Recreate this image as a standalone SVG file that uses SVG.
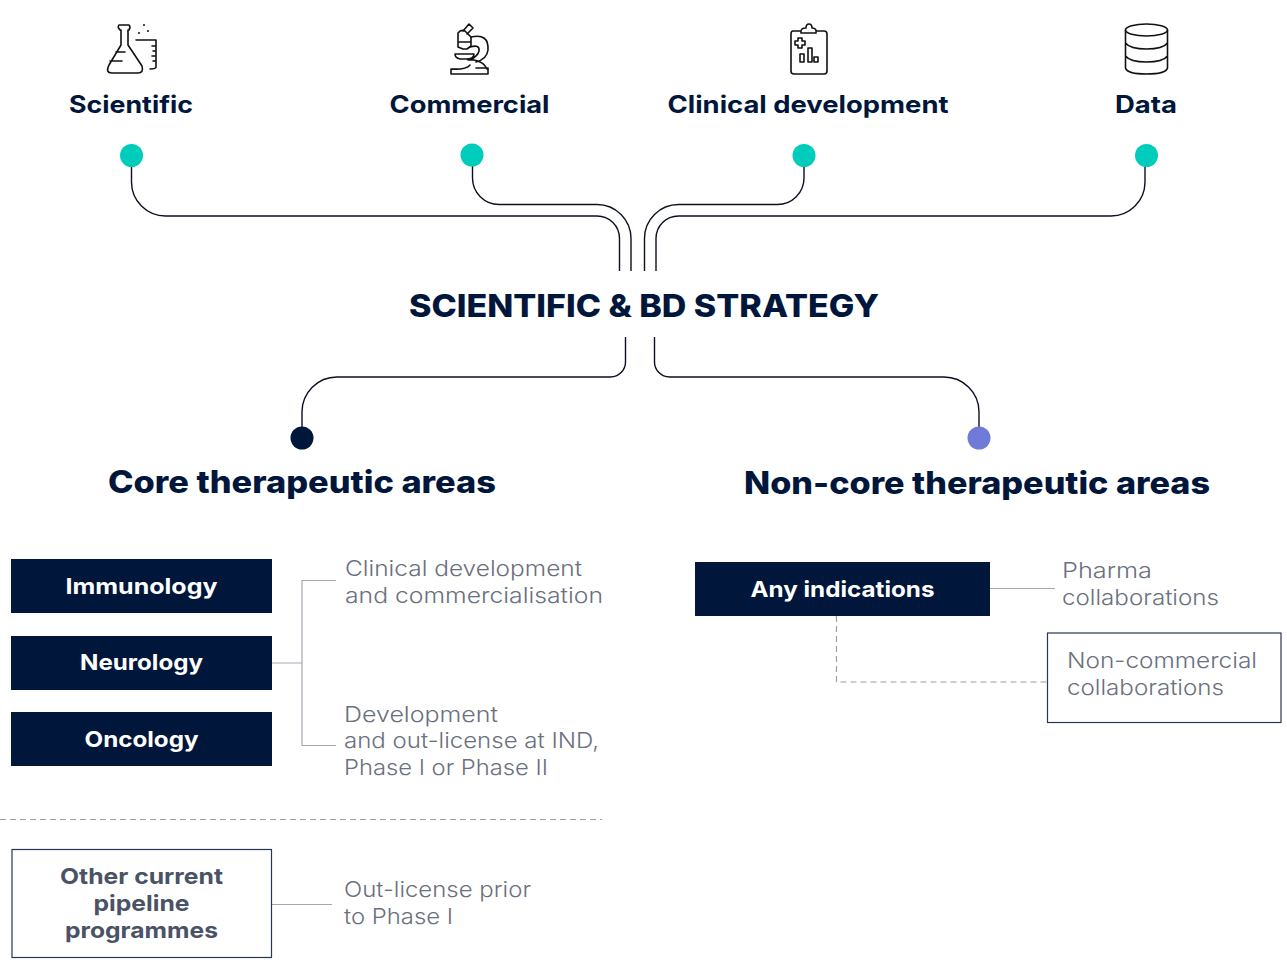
<svg xmlns="http://www.w3.org/2000/svg" width="1287" height="967" viewBox="0 0 1287 967">
<style>
text{font-family:"Inter","Noto Sans","Liberation Sans",sans-serif}
.h{font-weight:700;fill:#00163a;text-anchor:middle}
.top{font-size:24px}
.big{font-size:31px;font-weight:800}
.box{font-size:22px;font-weight:700;fill:#fff;text-anchor:middle}
.g{font-size:22px;font-weight:300;fill:#6a707e}
.o{font-size:22px;font-weight:700;fill:#4a5266;text-anchor:middle}
.c{fill:none;stroke:#0a1020;stroke-width:1.4}
.l{fill:none;stroke:#a4a8b2;stroke-width:1.2}
.d{fill:none;stroke:#9a9ea8;stroke-width:1.2;stroke-dasharray:6 4}
.i{fill:none;stroke:#111;stroke-width:1.6;stroke-linecap:round;stroke-linejoin:round}
.n{fill:#00163a}
.b{fill:#fff;stroke:#2a3555;stroke-width:1.2}
</style>
<rect width="1287" height="967" fill="#fff"/>
<g id="connectors">
<path class="c" d="M131.500 155V182a34 34 0 0 0 34 34H597a22.500 22.500 0 0 1 22.500 22.500V271"/>
<path class="c" d="M472.500 155V178a26.500 26.500 0 0 0 26.500 26.500H597a34 34 0 0 1 34 34V271"/>
<path class="c" d="M804 155V178a26.500 26.500 0 0 1 -26.500 26.500H678.500a34 34 0 0 0 -34 34V271"/>
<path class="c" d="M1145 155V182a34 34 0 0 1 -34 34H678.500a22.500 22.500 0 0 0 -22.500 22.500V271"/>
<path class="c" d="M625.500 337V362a15 15 0 0 1 -15 15H337a35 35 0 0 0 -35 35V438"/>
<path class="c" d="M654.500 337V362a15 15 0 0 0 15 15H944a35 35 0 0 1 35 35V438"/>
<path class="l" d="M336 580.500H302V745.500H336M272 663H302"/>
<path class="l" d="M990 588.500H1055"/>
<path class="d" d="M836.500 616V682H1047"/>
<path class="d" d="M0 819.500H602"/>
<path class="l" d="M272 904.500H332"/>
</g>
<g id="icon-scientific">
<path class="i" d="M119 25H129Q131 27 129 30H128V45L142 66Q144 73 138 73H112Q105 73 109 65L121 45V30H120Q117 27 119 25ZM110 61H122M116 52H125"/>
<path class="i" d="M136 40H156V67Q156 69 150 69M156 46H152M156 51H153M156 56H152M156 61H153"/>
<circle cx="139" cy="33" r="1" fill="#111"/><circle cx="144" cy="25" r="1" fill="#111"/><circle cx="148" cy="31" r="1" fill="#111"/>
<text class="h top" x="131" y="113" textLength="124" lengthAdjust="spacingAndGlyphs">Scientific</text>
<circle cx="131.500" cy="155.500" r="11.500" fill="#00ccbc"/>
</g>
<g id="icon-commercial">
<path class="i" d="M463 31L469 24L473 28L467 34M458 33Q461 29 465 31L471 37V42H458ZM458 42V47L463 49H467L471 46V42"/>
<path class="i" d="M471 37Q489 33 488 50Q487 59 476 62M470 47Q480 44 479 51Q478 56 470 60M455 54H474Q474 59 466 59H460Q455 58 455 54ZM468 60H474Q484 62 487 69M451 74V69Q466 70 470 65M451 74H488V68H476"/>
<text class="h top" x="469.500" y="113" textLength="160" lengthAdjust="spacingAndGlyphs">Commercial</text>
<circle cx="472" cy="155" r="11.500" fill="#00ccbc"/>
</g>
<g id="icon-clinical">
<path class="i" d="M800 31H793Q791 31 791 34V71Q791 74 794 74H824Q827 74 827 71V34Q827 31 824 31H816M801 33Q800 28 806 28Q806 24 809 24Q812 24 812 28Q817 28 816 33Z"/>
<path class="i" d="M798 38H802V41H805V45H802V48H798V45H795V41H798ZM800 54H804V62H800ZM808 48H812V62H808ZM814 57H818V62H814Z"/>
<text class="h top" x="808" y="113" textLength="281" lengthAdjust="spacingAndGlyphs">Clinical development</text>
<circle cx="804" cy="155.500" r="11.500" fill="#00ccbc"/>
</g>
<g id="icon-data">
<ellipse class="i" cx="1146.500" cy="30" rx="21" ry="6"/>
<path class="i" d="M1125.500 30V68Q1127 74 1146.500 74Q1166 74 1167.500 68V30M1125.500 43Q1130 49 1146.500 49Q1163 49 1167.500 43M1125.500 56Q1130 62 1146.500 62Q1163 62 1167.500 56"/>
<text class="h top" x="1146" y="113" textLength="62" lengthAdjust="spacingAndGlyphs">Data</text>
<circle cx="1146.500" cy="155.500" r="11.500" fill="#00ccbc"/>
</g>
<g id="strategy"><text class="h big" x="644" y="317" textLength="470" lengthAdjust="spacingAndGlyphs">SCIENTIFIC &amp; BD STRATEGY</text></g>
<g id="core"><circle cx="302" cy="438" r="11.500" fill="#00163a"/><text class="h big" x="302" y="493" textLength="388" lengthAdjust="spacingAndGlyphs">Core therapeutic areas</text></g>
<g id="noncore"><circle cx="979" cy="438" r="11.500" fill="#6f7bd6"/><text class="h big" x="977" y="494" textLength="466" lengthAdjust="spacingAndGlyphs">Non-core therapeutic areas</text></g>
<g id="immunology"><rect class="n" x="11" y="559" width="261" height="54"/><text class="box" x="141.500" y="594" textLength="152" lengthAdjust="spacingAndGlyphs">Immunology</text></g>
<g id="neurology"><rect class="n" x="11" y="636" width="261" height="54"/><text class="box" x="141.500" y="670" textLength="123" lengthAdjust="spacingAndGlyphs">Neurology</text></g>
<g id="oncology"><rect class="n" x="11" y="712" width="261" height="54"/><text class="box" x="141.500" y="747" textLength="114" lengthAdjust="spacingAndGlyphs">Oncology</text></g>
<g id="any"><rect class="n" x="695" y="562" width="295" height="54"/><text class="box" x="842.500" y="597" textLength="184" lengthAdjust="spacingAndGlyphs">Any indications</text></g>
<g id="other"><rect class="b" x="12" y="849.500" width="259.500" height="108"/>
<text class="o" x="141.500" y="884" textLength="163" lengthAdjust="spacingAndGlyphs">Other current</text>
<text class="o" x="141.500" y="911" textLength="96" lengthAdjust="spacingAndGlyphs">pipeline</text>
<text class="o" x="141.500" y="938" textLength="153" lengthAdjust="spacingAndGlyphs">programmes</text></g>
<g id="label-clinical"><text class="g" x="345" y="576" textLength="237" lengthAdjust="spacingAndGlyphs">Clinical development</text><text class="g" x="345" y="603" textLength="258" lengthAdjust="spacingAndGlyphs">and commercialisation</text></g>
<g id="label-dev"><text class="g" x="344" y="722" textLength="154" lengthAdjust="spacingAndGlyphs">Development</text><text class="g" x="344" y="748" textLength="255" lengthAdjust="spacingAndGlyphs">and out-license at IND,</text><text class="g" x="344" y="775" textLength="204" lengthAdjust="spacingAndGlyphs">Phase I or Phase II</text></g>
<g id="label-pharma"><text class="g" x="1062" y="578" textLength="90" lengthAdjust="spacingAndGlyphs">Pharma</text><text class="g" x="1062" y="605" textLength="157" lengthAdjust="spacingAndGlyphs">collaborations</text></g>
<g id="noncommercial"><rect class="b" x="1047.500" y="633" width="233.500" height="89.500"/><text class="g" x="1067" y="668" textLength="190" lengthAdjust="spacingAndGlyphs">Non-commercial</text><text class="g" x="1067" y="695" textLength="157" lengthAdjust="spacingAndGlyphs">collaborations</text></g>
<g id="label-outlicense"><text class="g" x="344" y="897" textLength="187" lengthAdjust="spacingAndGlyphs">Out-license prior</text><text class="g" x="344" y="924" textLength="109" lengthAdjust="spacingAndGlyphs">to Phase I</text></g>
</svg>
